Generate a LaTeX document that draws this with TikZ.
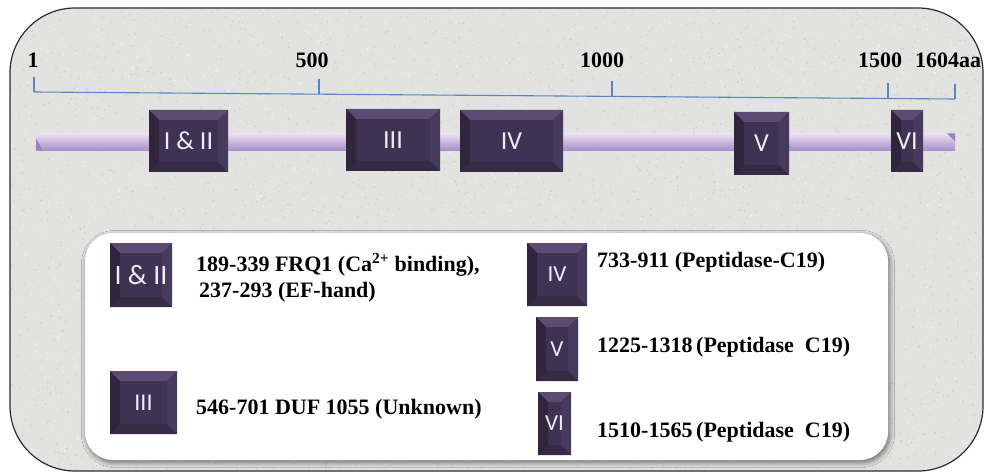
\documentclass[tikz,border=0pt]{standalone}
\usepackage{fontspec}
\setmainfont{Liberation Serif}
\newfontfamily\domfont{Carlito}
\usetikzlibrary{shadows.blur}

\definecolor{bgfill}{HTML}{E2E2E0}
\definecolor{grainD}{HTML}{CDCDCA}
\definecolor{grainL}{HTML}{F1F1EF}
\definecolor{framec}{HTML}{2C2C2C}
\definecolor{scalec}{HTML}{5A86C0}
\definecolor{domface}{HTML}{403253}
\definecolor{domtop}{HTML}{5C4B72}
\definecolor{domleft}{HTML}{30253C}
\definecolor{domright}{HTML}{483A5C}
\definecolor{dombot}{HTML}{362A44}
\definecolor{domtext}{HTML}{F1ECF6}
\definecolor{bartop}{HTML}{ECDFF4}
\definecolor{barmid}{HTML}{E2D1EF}
\definecolor{barbot}{HTML}{A78FC5}
\definecolor{barcap}{HTML}{9A82B6}

\tikzset{
  bev/.store in=\bevd, bev=10,
  sz/.style 2 args={minimum width=#1pt, minimum height=#2pt},
  dombox/.style={rectangle, fill=domface, inner sep=0pt, text=domtext,
    font=\domfont\fontsize{26}{26}\selectfont,
    path picture={
      \fill[domtop] (path picture bounding box.north west) -- (path picture bounding box.north east)
        -- ([shift={(-\bevd pt,-\bevd pt)}]path picture bounding box.north east)
        -- ([shift={(\bevd pt,-\bevd pt)}]path picture bounding box.north west) -- cycle;
      \fill[dombot] (path picture bounding box.south west) -- (path picture bounding box.south east)
        -- ([shift={(-\bevd pt,\bevd pt)}]path picture bounding box.south east)
        -- ([shift={(\bevd pt,\bevd pt)}]path picture bounding box.south west) -- cycle;
      \fill[domleft] (path picture bounding box.north west) -- (path picture bounding box.south west)
        -- ([shift={(\bevd pt,\bevd pt)}]path picture bounding box.south west)
        -- ([shift={(\bevd pt,-\bevd pt)}]path picture bounding box.north west) -- cycle;
      \fill[domright] (path picture bounding box.north east) -- (path picture bounding box.south east)
        -- ([shift={(-\bevd pt,\bevd pt)}]path picture bounding box.south east)
        -- ([shift={(-\bevd pt,-\bevd pt)}]path picture bounding box.north east) -- cycle;
    }},
  chainbar/.style={rectangle, inner sep=0pt, top color=bartop, middle color=barmid, bottom color=barbot,
    path picture={
      \fill[barcap] (path picture bounding box.south west)
        -- ([yshift=-5pt]path picture bounding box.north west)
        -- ([xshift=7pt]path picture bounding box.south west) -- cycle;
      \fill[barcap] (path picture bounding box.north east)
        -- ([xshift=-8pt]path picture bounding box.north east)
        -- ([yshift=-8pt]path picture bounding box.north east) -- cycle;
    }},
  scaleline/.style={draw=scalec, line width=1.1pt},
  scalelab/.style={anchor=base, inner sep=0pt, font=\bfseries\fontsize{22}{22}\selectfont},
  legendbox/.style={rectangle, rounded corners=28pt, fill=white, inner sep=0pt,
    blur shadow={shadow xshift=1.5pt, shadow yshift=-2.5pt, shadow blur radius=5pt,
      shadow blur steps=10, shadow opacity=55}},
  legtext/.style={inner sep=0pt, font=\bfseries\fontsize{22}{26}\selectfont},
}

\begin{document}
\begin{tikzpicture}[x=1pt, y=-1pt]
\useasboundingbox (0,0) rectangle (985,473);

% granite-like panel
\begin{scope}
  \clip[rounded corners=65pt] (10,8) rectangle (983,471);
  \fill[bgfill] (0,0) rectangle (985,473);
  \pgfmathsetseed{42}
  \fill[grainD] \foreach \i in {1,...,3000}{
    ({10+973*rnd},{8+463*rnd}) rectangle ++(1.2,1.2)};
  \fill[grainL] \foreach \i in {1,...,3000}{
    ({10+973*rnd},{8+463*rnd}) rectangle ++(1.2,1.2)};
\end{scope}
\draw[framec, line width=1.2pt, rounded corners=65pt] (10,8) rectangle (983,471);

% residue scale
\coordinate (s1) at (34,92);
\coordinate (s500) at (319,94.2);
\coordinate (s1000) at (612,96.4);
\coordinate (s1500) at (888,98.5);
\coordinate (s1604) at (955,99);
\draw[scaleline] (s1) -- (s1604);
\foreach \p in {s1,s500,s1000,s1500,s1604}
  \draw[scaleline] (\p) -- ++(0,-15);

\node[scalelab] (lab1) at (33,68) {1};
\node[scalelab] (lab500) at (312,68) {500};
\node[scalelab] (lab1000) at (602,68) {1000};
\node[scalelab] (lab1500) at (880,68) {1500};
\node[scalelab] (lab1604) at (948,68) {1604aa};

% protein chain
\node[chainbar, sz={919}{17}] (chain) at (495.5,142) {};

% domains along the chain
\node[dombox, sz={79}{62}] (d12) at (188.5,141) {I \& II};
\node[dombox, sz={94}{62}] (d3) at (393,140) {III};
\node[dombox, sz={103}{62}] (d4) at (511.5,141) {IV};
\node[dombox, sz={55}{63}] (d5) at (761.5,143.5) {V};
\node[dombox, sz={32}{62}] (d6) at (907,141) {VI};

% legend
\node[legendbox, sz={803}{227}] (legend) at (486.5,346.5) {};

\node[dombox, sz={62}{64}, font=\domfont\fontsize{28}{28}\selectfont] (k12) at (141,275) {I \& II};
\node[dombox, sz={67}{63}, font=\domfont\fontsize{24}{24}\selectfont] (k3) at (143.5,402.5) {III};
\node[dombox, sz={60}{63}, font=\domfont\fontsize{23}{23}\selectfont] (k4) at (557,274.5) {IV};
\node[dombox, sz={42}{64}, font=\domfont\fontsize{23}{23}\selectfont] (k5) at (557,349) {V};
\node[dombox, sz={33}{63}, font=\domfont\fontsize{23}{23}\selectfont] (k6) at (554.5,423.5) {VI};

\node[legtext, anchor=west, align=left] (t12) at (196,278)
  {189-339 FRQ1 (Ca\textsuperscript{2+} binding),\\\hspace*{3pt}237-293 (EF-hand)};
\node[legtext, anchor=base west] (t3) at (196,414) {546-701 DUF 1055 (Unknown)};
\node[legtext, anchor=base west] (t4) at (597,267) {733-911 (Peptidase-C19)};
\node[legtext, anchor=base west] (t5) at (597,352) {1225-1318\,(Peptidase\ \ C19)};
\node[legtext, anchor=base west] (t6) at (597,437) {1510-1565\,(Peptidase\ \ C19)};
\end{tikzpicture}
\end{document}
